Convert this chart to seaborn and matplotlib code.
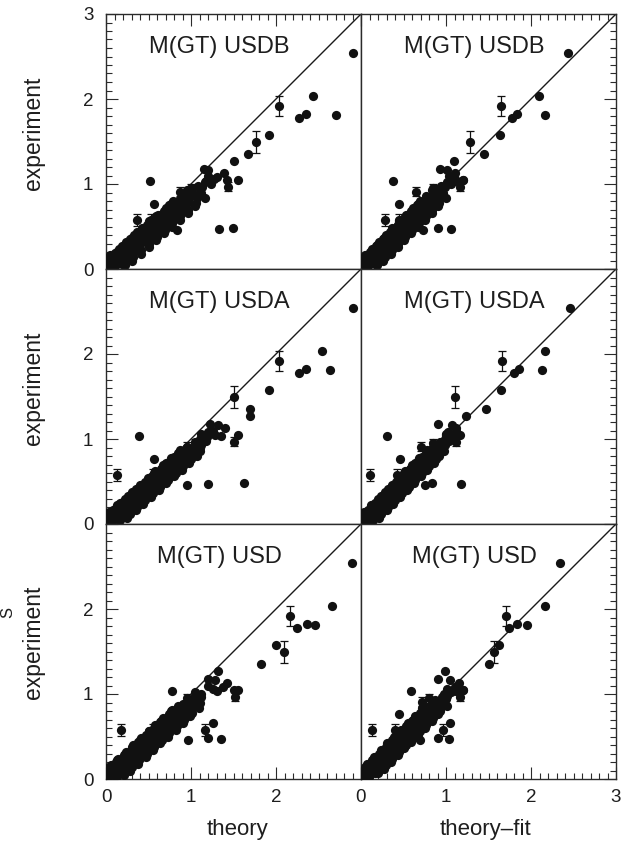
import numpy as np
import pandas as pd
import matplotlib
matplotlib.use("Agg")
import matplotlib.pyplot as plt
import seaborn as sns
from matplotlib.ticker import MultipleLocator

# ---------------- data ----------------
# order: dense cluster A (72) | isolated / error-bar points (31) | dense cluster B (60) | cluster edge C (40)
experiment = [
    0.02, 0.03, 0.05, 0.06, 0.07, 0.08, 0.10, 0.11, 0.12, 0.13,
    0.14, 0.15, 0.16, 0.17, 0.18, 0.19, 0.20, 0.21, 0.22, 0.23,
    0.24, 0.25, 0.26, 0.27, 0.28, 0.29, 0.30, 0.31, 0.32, 0.33,
    0.34, 0.35, 0.36, 0.37, 0.38, 0.39, 0.40, 0.41, 0.42, 0.43,
    0.44, 0.45, 0.46, 0.47, 0.48, 0.50, 0.51, 0.52, 0.53, 0.55,
    0.56, 0.57, 0.58, 0.60, 0.61, 0.62, 0.64, 0.65, 0.67, 0.68,
    0.70, 0.72, 0.73, 0.75, 0.77, 0.79, 0.81, 0.83, 0.85, 0.87,
    0.90, 0.93,
    2.54, 2.04, 1.81, 1.78, 1.82, 1.92, 1.58, 1.49, 1.35, 1.27,
    1.05, 0.97, 0.47, 0.48, 1.03, 0.76, 0.91, 0.58, 0.58, 0.58,
    0.66, 0.46,
    1.18, 1.16, 1.03, 0.90, 1.13, 1.05, 0.95, 0.85, 1.08,
    0.04, 0.06, 0.08, 0.09, 0.11, 0.12, 0.14, 0.15, 0.17, 0.18,
    0.20, 0.21, 0.23, 0.24, 0.26, 0.27, 0.29, 0.30, 0.32, 0.33,
    0.35, 0.36, 0.38, 0.39, 0.41, 0.42, 0.44, 0.45, 0.47, 0.49,
    0.50, 0.52, 0.54, 0.55, 0.57, 0.59, 0.60, 0.62, 0.63, 0.65,
    0.66, 0.68, 0.69, 0.71, 0.74, 0.76, 0.78, 0.80, 0.82, 0.84,
    0.86, 0.88, 0.91, 0.94, 0.96, 0.98, 1.00, 1.02, 1.06, 1.10,
    0.05, 0.07, 0.09, 0.12, 0.14, 0.16, 0.18, 0.20, 0.22, 0.24,
    0.26, 0.28, 0.30, 0.32, 0.34, 0.36, 0.38, 0.40, 0.42, 0.44,
    0.46, 0.48, 0.50, 0.52, 0.54, 0.56, 0.58, 0.60, 0.62, 0.64,
    0.66, 0.68, 0.70, 0.72, 0.74, 0.76, 0.78, 0.80, 0.83, 0.86,
]
exp_error = [0.0] * 72 + [
    0, 0, 0, 0, 0, 0.12, 0, 0.13, 0, 0,
    0, 0.05, 0, 0, 0, 0, 0.05, 0.07, 0.07, 0.07,
    0, 0,
    0, 0, 0, 0, 0, 0, 0.05, 0, 0,
] + [0.0] * 100

usdb = [
    0.02, 0.10, 0.03, 0.19, 0.02, 0.11, 0.21, 0.03, 0.04, 0.21,
    0.13, 0.29, 0.12, 0.22, 0.30, 0.10, 0.13, 0.30, 0.22, 0.38,
    0.22, 0.31, 0.39, 0.19, 0.22, 0.39, 0.32, 0.48, 0.31, 0.40,
    0.48, 0.28, 0.31, 0.49, 0.41, 0.57, 0.40, 0.49, 0.57, 0.37,
    0.41, 0.58, 0.50, 0.66, 0.49, 0.60, 0.68, 0.48, 0.51, 0.69,
    0.61, 0.78, 0.61, 0.71, 0.79, 0.59, 0.64, 0.81, 0.74, 0.90,
    0.75, 0.85, 0.93, 0.74, 0.79, 0.97, 0.90, 1.07, 0.92, 1.02,
    1.12, 0.95,
    2.90, 2.44, 2.70, 2.27, 2.35, 2.04, 1.92, 1.76, 1.67, 1.50,
    1.55, 1.43, 1.33, 1.49, 0.52, 0.56, 0.87, 0.37, 0.53, 0.72,
    0.85, 0.83,
    1.15, 1.20, 1.18, 1.11, 1.39, 1.42, 1.00, 0.98, 1.30,
    0.08, 0.02, 0.17, 0.09, 0.18, 0.07, 0.19, 0.12, 0.28, 0.20,
    0.28, 0.17, 0.30, 0.23, 0.38, 0.30, 0.38, 0.28, 0.40, 0.33,
    0.48, 0.40, 0.49, 0.38, 0.50, 0.43, 0.59, 0.51, 0.59, 0.49,
    0.61, 0.55, 0.70, 0.62, 0.71, 0.61, 0.72, 0.66, 0.80, 0.74,
    0.81, 0.71, 0.82, 0.77, 0.93, 0.86, 0.95, 0.85, 0.97, 0.92,
    1.07, 1.00, 1.10, 1.01, 1.13, 1.08, 1.23, 1.16, 1.27, 1.20,
    0.22, 0.01, 0.30, 0.04, 0.32, 0.05, 0.41, 0.13, 0.41, 0.15,
    0.50, 0.22, 0.51, 0.24, 0.59, 0.31, 0.60, 0.33, 0.68, 0.41,
    0.69, 0.42, 0.78, 0.50, 0.78, 0.51, 0.87, 0.59, 0.87, 0.61,
    0.96, 0.68, 0.97, 0.70, 1.05, 0.77, 1.06, 0.79, 1.16, 0.89,
]
usdb_fit = [
    0.01, 0.08, 0.03, 0.16, 0.02, 0.10, 0.17, 0.02, 0.04, 0.18,
    0.12, 0.25, 0.11, 0.19, 0.25, 0.10, 0.12, 0.26, 0.20, 0.33,
    0.19, 0.27, 0.33, 0.18, 0.20, 0.34, 0.28, 0.41, 0.27, 0.35,
    0.41, 0.26, 0.28, 0.42, 0.36, 0.49, 0.35, 0.43, 0.49, 0.34,
    0.36, 0.50, 0.44, 0.57, 0.43, 0.52, 0.58, 0.43, 0.45, 0.60,
    0.54, 0.67, 0.53, 0.62, 0.68, 0.53, 0.56, 0.70, 0.65, 0.78,
    0.65, 0.74, 0.80, 0.66, 0.69, 0.84, 0.79, 0.93, 0.80, 0.89,
    0.97, 0.84,
    2.44, 2.09, 2.16, 1.78, 1.84, 1.65, 1.63, 1.28, 1.45, 1.09,
    1.20, 1.16, 1.06, 0.91, 0.38, 0.45, 0.65, 0.28, 0.45, 0.62,
    0.70, 0.73,
    0.93, 1.01, 1.11, 0.93, 1.11, 1.20, 0.85, 0.78, 1.05,
    0.07, 0.02, 0.14, 0.08, 0.15, 0.06, 0.17, 0.11, 0.23, 0.17,
    0.24, 0.15, 0.26, 0.20, 0.32, 0.26, 0.33, 0.24, 0.35, 0.29,
    0.41, 0.35, 0.42, 0.33, 0.44, 0.38, 0.50, 0.44, 0.51, 0.43,
    0.53, 0.48, 0.60, 0.54, 0.61, 0.53, 0.63, 0.58, 0.69, 0.64,
    0.70, 0.62, 0.72, 0.67, 0.80, 0.75, 0.82, 0.74, 0.85, 0.80,
    0.92, 0.87, 0.95, 0.88, 0.99, 0.94, 1.06, 1.01, 1.10, 1.04,
    0.19, 0.01, 0.26, 0.03, 0.28, 0.05, 0.35, 0.11, 0.36, 0.13,
    0.43, 0.19, 0.44, 0.21, 0.51, 0.27, 0.52, 0.29, 0.59, 0.35,
    0.60, 0.37, 0.67, 0.43, 0.68, 0.45, 0.75, 0.51, 0.76, 0.53,
    0.83, 0.59, 0.84, 0.61, 0.91, 0.67, 0.92, 0.69, 1.00, 0.77,
]
usda = [
    0.07, 0.01, 0.17, 0.03, 0.16, 0.02, 0.12, 0.19, 0.19, 0.06,
    0.27, 0.13, 0.26, 0.08, 0.21, 0.28, 0.28, 0.15, 0.36, 0.22,
    0.35, 0.17, 0.30, 0.38, 0.37, 0.24, 0.45, 0.31, 0.44, 0.26,
    0.39, 0.47, 0.46, 0.33, 0.54, 0.40, 0.53, 0.35, 0.48, 0.56,
    0.55, 0.42, 0.63, 0.49, 0.62, 0.46, 0.59, 0.66, 0.65, 0.53,
    0.74, 0.60, 0.74, 0.57, 0.70, 0.77, 0.77, 0.65, 0.87, 0.73,
    0.87, 0.70, 0.83, 0.92, 0.92, 0.80, 1.03, 0.90, 1.04, 0.87,
    1.03, 1.12,
    2.90, 2.54, 2.63, 2.27, 2.35, 2.04, 1.92, 1.50, 1.69, 1.69,
    1.55, 1.50, 1.20, 1.62, 0.39, 0.56, 0.95, 0.13, 0.55, 0.70,
    0.85, 0.95,
    1.22, 1.32, 1.35, 1.10, 1.40, 1.28, 1.05, 1.00, 1.20,
    0.01, 0.14, 0.07, 0.14, 0.04, 0.16, 0.12, 0.24, 0.17, 0.24,
    0.15, 0.26, 0.22, 0.34, 0.27, 0.35, 0.25, 0.36, 0.32, 0.44,
    0.38, 0.45, 0.35, 0.46, 0.42, 0.55, 0.48, 0.55, 0.45, 0.57,
    0.53, 0.66, 0.59, 0.66, 0.56, 0.69, 0.64, 0.77, 0.69, 0.77,
    0.67, 0.79, 0.74, 0.87, 0.82, 0.90, 0.80, 0.92, 0.89, 1.02,
    0.95, 1.03, 0.95, 1.08, 1.05, 1.18, 1.11, 1.19, 1.12, 1.26,
    0.01, 0.25, 0.01, 0.28, 0.04, 0.35, 0.11, 0.37, 0.13, 0.44,
    0.20, 0.46, 0.22, 0.53, 0.29, 0.55, 0.31, 0.62, 0.39, 0.64,
    0.40, 0.71, 0.48, 0.73, 0.49, 0.80, 0.57, 0.82, 0.58, 0.89,
    0.66, 0.91, 0.67, 0.98, 0.75, 1.00, 0.76, 1.07, 0.85, 1.11,
]
usda_fit = [
    0.06, 0.01, 0.14, 0.03, 0.13, 0.01, 0.11, 0.17, 0.16, 0.06,
    0.23, 0.12, 0.22, 0.08, 0.19, 0.25, 0.24, 0.14, 0.31, 0.20,
    0.30, 0.16, 0.27, 0.33, 0.32, 0.22, 0.39, 0.28, 0.38, 0.24,
    0.35, 0.41, 0.40, 0.30, 0.47, 0.36, 0.46, 0.32, 0.43, 0.49,
    0.48, 0.38, 0.55, 0.44, 0.54, 0.41, 0.52, 0.58, 0.57, 0.48,
    0.65, 0.54, 0.64, 0.51, 0.62, 0.68, 0.68, 0.58, 0.76, 0.65,
    0.76, 0.63, 0.74, 0.81, 0.81, 0.72, 0.90, 0.80, 0.91, 0.78,
    0.91, 0.99,
    2.46, 2.17, 2.13, 1.80, 1.86, 1.66, 1.65, 1.11, 1.47, 1.24,
    1.17, 1.12, 1.18, 0.84, 0.30, 0.46, 0.70, 0.11, 0.42, 0.60,
    0.66, 0.75,
    0.91, 1.07, 1.10, 0.90, 1.12, 1.00, 0.85, 0.80, 1.02,
    0.01, 0.11, 0.07, 0.12, 0.05, 0.14, 0.11, 0.20, 0.16, 0.21,
    0.14, 0.23, 0.20, 0.29, 0.25, 0.30, 0.23, 0.32, 0.29, 0.38,
    0.34, 0.39, 0.32, 0.41, 0.38, 0.47, 0.43, 0.48, 0.41, 0.51,
    0.47, 0.57, 0.53, 0.58, 0.51, 0.61, 0.57, 0.67, 0.62, 0.68,
    0.60, 0.70, 0.66, 0.76, 0.73, 0.79, 0.72, 0.82, 0.79, 0.89,
    0.85, 0.90, 0.85, 0.96, 0.93, 1.04, 0.99, 1.05, 1.00, 1.12,
    0.01, 0.21, 0.02, 0.24, 0.04, 0.30, 0.11, 0.32, 0.12, 0.38,
    0.19, 0.40, 0.20, 0.46, 0.27, 0.48, 0.28, 0.54, 0.35, 0.56,
    0.36, 0.62, 0.43, 0.64, 0.44, 0.70, 0.51, 0.72, 0.52, 0.78,
    0.59, 0.80, 0.60, 0.86, 0.67, 0.88, 0.68, 0.92, 0.76, 0.98,
]
usd = [
    0.02, 0.13, 0.01, 0.11, 0.16, 0.04, 0.23, 0.10, 0.06, 0.24,
    0.04, 0.21, 0.26, 0.14, 0.32, 0.19, 0.15, 0.33, 0.13, 0.29,
    0.34, 0.23, 0.41, 0.28, 0.24, 0.42, 0.22, 0.38, 0.43, 0.31,
    0.49, 0.37, 0.33, 0.51, 0.31, 0.47, 0.52, 0.40, 0.58, 0.45,
    0.41, 0.60, 0.40, 0.56, 0.61, 0.50, 0.68, 0.55, 0.51, 0.71,
    0.51, 0.67, 0.72, 0.61, 0.79, 0.66, 0.63, 0.82, 0.63, 0.79,
    0.85, 0.74, 0.92, 0.81, 0.78, 0.97, 0.78, 0.95, 1.02, 0.91,
    1.11, 1.00,
    2.89, 2.66, 2.46, 2.25, 2.37, 2.17, 2.00, 2.09, 1.82, 1.32,
    1.55, 1.52, 1.35, 1.20, 0.78, 0.80, 0.99, 0.18, 0.55, 1.16,
    1.26, 0.96,
    1.20, 1.28, 1.30, 1.05, 1.42, 1.50, 0.95, 1.00, 1.38,
    0.10, 0.04, 0.11, 0.03, 0.21, 0.12, 0.21, 0.14, 0.21, 0.13,
    0.31, 0.22, 0.31, 0.23, 0.31, 0.23, 0.41, 0.32, 0.41, 0.33,
    0.41, 0.33, 0.51, 0.42, 0.51, 0.43, 0.50, 0.43, 0.61, 0.53,
    0.61, 0.54, 0.61, 0.54, 0.72, 0.64, 0.72, 0.65, 0.71, 0.65,
    0.82, 0.74, 0.82, 0.75, 0.83, 0.77, 0.95, 0.87, 0.96, 0.89,
    0.97, 0.90, 1.09, 1.02, 1.12, 1.05, 1.12, 1.05, 1.26, 1.20,
    0.21, 0.01, 0.28, 0.03, 0.30, 0.06, 0.38, 0.12, 0.39, 0.14,
    0.47, 0.21, 0.48, 0.23, 0.55, 0.30, 0.57, 0.32, 0.64, 0.38,
    0.66, 0.41, 0.73, 0.47, 0.74, 0.50, 0.82, 0.56, 0.83, 0.58,
    0.91, 0.65, 0.92, 0.67, 0.99, 0.74, 1.01, 0.76, 1.09, 0.85,
]
usd_fit = [
    0.09, 0.01, 0.07, 0.01, 0.16, 0.05, 0.15, 0.05, 0.19, 0.08,
    0.16, 0.07, 0.25, 0.14, 0.23, 0.13, 0.27, 0.16, 0.24, 0.15,
    0.33, 0.22, 0.31, 0.21, 0.35, 0.24, 0.32, 0.23, 0.41, 0.30,
    0.39, 0.29, 0.43, 0.32, 0.40, 0.31, 0.49, 0.38, 0.47, 0.37,
    0.51, 0.40, 0.48, 0.39, 0.57, 0.47, 0.56, 0.46, 0.60, 0.50,
    0.58, 0.49, 0.67, 0.57, 0.66, 0.56, 0.71, 0.60, 0.69, 0.60,
    0.79, 0.69, 0.78, 0.69, 0.84, 0.74, 0.83, 0.75, 0.94, 0.84,
    0.95, 0.87,
    2.34, 2.17, 1.95, 1.74, 1.84, 1.71, 1.62, 1.56, 1.50, 0.99,
    1.20, 1.17, 1.03, 0.90, 0.59, 0.45, 0.72, 0.13, 0.40, 0.96,
    1.05, 0.69,
    0.90, 1.05, 1.12, 0.85, 1.15, 1.20, 0.80, 0.75, 1.10,
    0.02, 0.10, 0.03, 0.15, 0.10, 0.15, 0.12, 0.19, 0.12, 0.24,
    0.19, 0.24, 0.21, 0.28, 0.21, 0.33, 0.28, 0.33, 0.30, 0.37,
    0.30, 0.42, 0.37, 0.42, 0.39, 0.46, 0.39, 0.51, 0.46, 0.52,
    0.48, 0.56, 0.49, 0.61, 0.56, 0.62, 0.58, 0.66, 0.58, 0.71,
    0.65, 0.71, 0.67, 0.75, 0.69, 0.82, 0.77, 0.83, 0.80, 0.88,
    0.81, 0.92, 0.86, 1.00, 0.95, 1.01, 0.98, 1.06, 1.01, 1.13,
    0.01, 0.20, 0.01, 0.27, 0.05, 0.29, 0.07, 0.35, 0.13, 0.37,
    0.15, 0.43, 0.21, 0.45, 0.23, 0.51, 0.29, 0.53, 0.31, 0.59,
    0.37, 0.61, 0.39, 0.67, 0.45, 0.69, 0.47, 0.75, 0.53, 0.77,
    0.55, 0.83, 0.61, 0.85, 0.63, 0.91, 0.69, 0.93, 0.72, 1.01,
]

panel_titles = ["M(GT) USDB", "M(GT) USDA", "M(GT) USD"]
x_labels = ["theory", "theory\u2013fit"]
y_label = "experiment"
tick_values = [0, 1, 2, 3]

df = pd.DataFrame({
    "experiment": experiment, "err": exp_error,
    "usdb": usdb, "usdb_fit": usdb_fit,
    "usda": usda, "usda_fit": usda_fit,
    "usd": usd, "usd_fit": usd_fit,
})
columns = [["usdb", "usdb_fit"], ["usda", "usda_fit"], ["usd", "usd_fit"]]

# ---------------- figure ----------------
sns.set_theme(style="white")
plt.rcParams["font.family"] = ["Liberation Sans", "DejaVu Sans"]

W, H = 628, 849
fig = plt.figure(figsize=(W / 100, H / 100), dpi=100)
gs = fig.add_gridspec(3, 2, left=106 / W, right=616 / W, top=1 - 14 / H,
                      bottom=1 - 779 / H, wspace=0, hspace=0)

frame_col = "#2b2b2b"
text_col = "#1e1e1e"
err_df = df[df["err"] > 0]

for r in range(3):
    for c in range(2):
        ax = fig.add_subplot(gs[r, c])
        col = columns[r][c]
        ax.plot([0, 3], [0, 3], color="#1a1a1a", lw=1.0, zorder=2)
        ax.errorbar(err_df[col], err_df["experiment"], yerr=err_df["err"],
                    fmt="none", ecolor="#111111", elinewidth=0.9,
                    capsize=2.6, capthick=0.9, zorder=3)
        sns.scatterplot(data=df, x=col, y="experiment", ax=ax, color="#111111",
                        s=44, linewidth=0, legend=False, zorder=4)
        ax.set_xlim(0, 3)
        ax.set_ylim(0, 3)
        ax.set_xlabel("")
        ax.set_ylabel("")
        ax.set_xticks(tick_values)
        ax.set_yticks(tick_values)
        ax.xaxis.set_minor_locator(MultipleLocator(0.1))
        ax.yaxis.set_minor_locator(MultipleLocator(0.1))
        xl = [str(v) for v in tick_values]
        yl = [str(v) for v in tick_values]
        if c == 0:
            xl[-1] = ""
        if r > 0:
            yl[-1] = ""
        ax.set_xticklabels(xl)
        ax.set_yticklabels(yl)
        ax.tick_params(which="both", direction="in", color=frame_col, width=0.8,
                       top=(r == 0), bottom=(r == 2), left=(c == 0), right=(c == 1),
                       labeltop=False, labelright=False,
                       labelbottom=(r == 2), labelleft=(c == 0),
                       labelsize=13.5, labelcolor=text_col)
        ax.tick_params(which="major", length=8.5)
        ax.tick_params(which="minor", length=4.3)
        ax.tick_params(axis="y", pad=9)
        ax.tick_params(axis="x", pad=7)
        for sp in ax.spines.values():
            sp.set_color(frame_col)
            sp.set_linewidth(1.0)
        ax.set_facecolor("white")
        ax.text(0.445, 0.87, panel_titles[r], transform=ax.transAxes,
                ha="center", va="center", fontsize=17, color=text_col)

for r, yc in enumerate([133, 388, 642]):
    fig.text(33 / W, 1 - yc / H, y_label, rotation=90, ha="center", va="center",
             fontsize=16.5, color=text_col)
for xc, lab in zip([237, 485], x_labels):
    fig.text(xc / W, 1 - 830 / H, lab, ha="center", va="center",
             fontsize=16, color=text_col)

fig.text(0.0, 1 - 612 / H, "S", rotation=90, ha="left", va="center",
         fontsize=12, color=text_col)

fig.savefig("out.png", dpi=100, facecolor="white")
